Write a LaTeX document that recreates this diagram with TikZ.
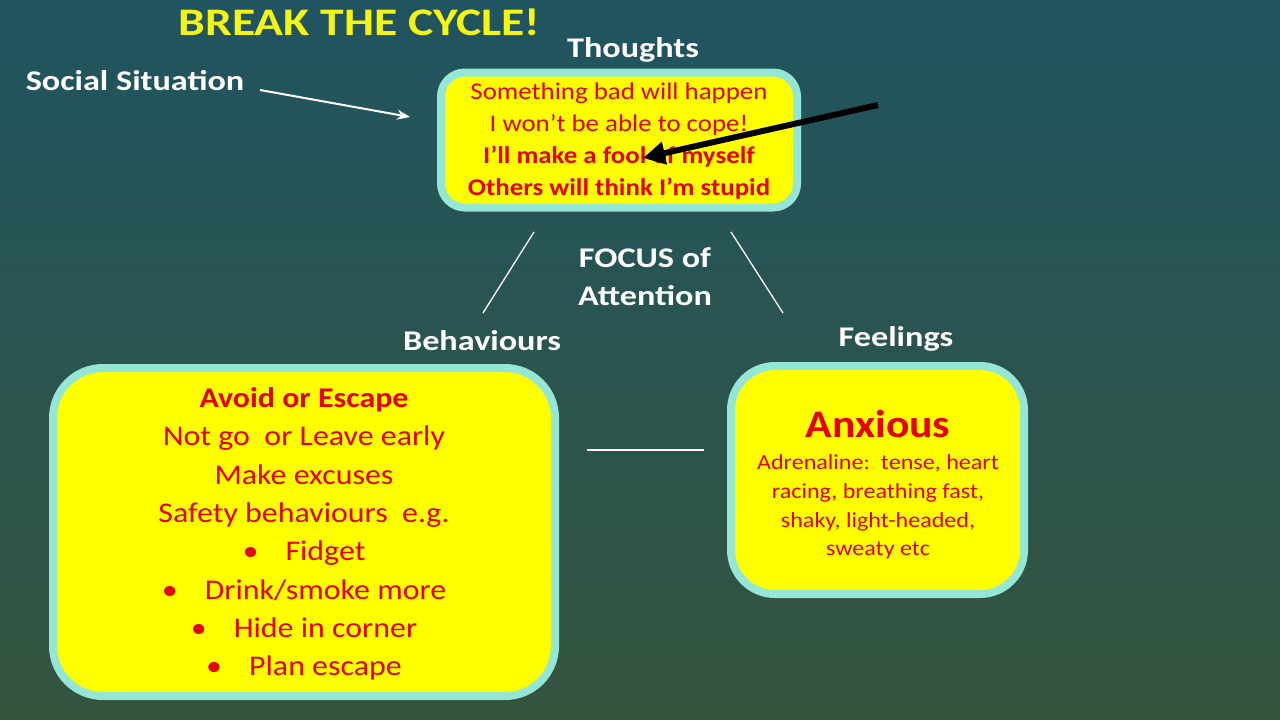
\documentclass[tikz,border=0pt]{standalone}
\usepackage{fontspec}
\setmainfont{Carlito}[FakeStretch=1.12]
\newfontfamily\widefont{Carlito}[FakeStretch=1.2]
\newfontfamily\titlefont{Carlito}[FakeStretch=1.22]
\usetikzlibrary{arrows.meta}
\definecolor{bgtop}{RGB}{32,84,96}
\definecolor{bgbot}{RGB}{52,84,62}
\definecolor{rim}{RGB}{150,230,214}
\definecolor{boxfill}{RGB}{255,255,0}
\definecolor{txtred}{RGB}{230,0,0}
\definecolor{titleyel}{RGB}{245,245,20}
\tikzset{
  cbox/.style={draw=rim, fill=boxfill, line width=8pt, inner sep=0pt},
  lbl/.style={text=white, font=\widefont\fontsize{28.5}{38}\selectfont\bfseries, inner sep=0pt, align=center},
  rtext/.style={text=txtred, inner sep=0pt, align=center},
  conn/.style={draw=white, line width=1.3pt},
}
\begin{document}
\begin{tikzpicture}[x=1pt,y=-1pt]
\useasboundingbox (0,0) rectangle (1280,720);
\shade[top color=bgtop, bottom color=bgbot] (0,0) rectangle (1280,720);

% title
\node[text=titleyel, font=\titlefont\fontsize{39}{42}\selectfont\bfseries, inner sep=0pt] (title) at (359.5,22) {BREAK THE CYCLE!};

% labels
\node[lbl] (social) at (135,81) {Social Situation};
\node[lbl] (thoughtslbl) at (633,50) {Thoughts};
\node[lbl] (focus) at (645,277) {FOCUS of\\Attention};
\node[lbl] (behlbl) at (482,341) {Behaviours};
\node[lbl] (feellbl) at (896,339) {Feelings};

% boxes
\node[cbox, minimum width=356pt, minimum height=135pt, rounded corners=24pt] (thoughts) at (619,140) {};
\node[cbox, minimum width=502pt, minimum height=328pt, rounded corners=50pt] (behav) at (304,532) {};
\node[cbox, minimum width=293pt, minimum height=228pt, rounded corners=44pt] (feel) at (877.5,480) {};

% thoughts text
\node[rtext, font=\fontsize{24}{32}\selectfont] (ttext) at (619,141)
  {Something bad will happen\\
   I won’t be able to cope!\\
   \textbf{I’ll make a fool of myself}\\
   \textbf{Others will think I’m stupid}};

% behaviours text
\node[rtext, font=\fontsize{28.5}{38.3}\selectfont] (btext) at (304,534)
  {\textbf{Avoid or Escape}\\
   Not go\ \ or Leave early\\
   Make excuses\\
   Safety behaviours\ \ e.g.\\
   •\hspace{0.95em}Fidget\\
   •\hspace{0.95em}Drink/smoke more\\
   •\hspace{0.95em}Hide in corner\\
   •\hspace{0.95em}Plan escape};

% feelings text
\node[rtext, font=\fontsize{39}{44}\selectfont\bfseries] (anx) at (878,424) {Anxious};
\node[rtext, font=\fontsize{21.5}{28.7}\selectfont] (ftext) at (878,507)
  {Adrenaline:\ \ tense, heart\\
   racing, breathing fast,\\
   shaky, light-headed,\\
   sweaty etc};

% connectors
\coordinate (a1) at (534,232);
\coordinate (a2) at (483,313);
\coordinate (b1) at (731,232);
\coordinate (b2) at (783,313);
\coordinate (c1) at (587,450);
\coordinate (c2) at (704,450);
\draw[conn] (a1) -- (a2);
\draw[conn] (b1) -- (b2);
\draw[conn] (c1) -- (c2);

\coordinate (s1) at (260,90);
\coordinate (s2) at (410,117);
\draw[draw=white, line width=2pt, -{Stealth[length=13pt,width=10pt]}] (s1) -- (s2);

\coordinate (k1) at (878,105);
\coordinate (k2) at (643,158);
\draw[draw=black, line width=6pt, -{Triangle[length=22pt,width=22pt]}] (k1) -- (k2);
\end{tikzpicture}
\end{document}
